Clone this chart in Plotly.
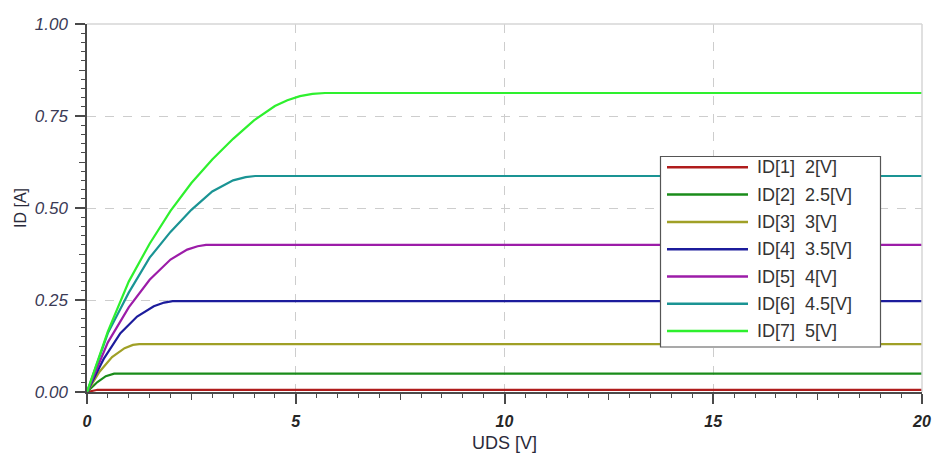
import plotly.graph_objects as go

# ---- data ----
names = ["ID[1]  2[V]", "ID[2]  2.5[V]", "ID[3]  3[V]", "ID[4]  3.5[V]",
         "ID[5]  4[V]", "ID[6]  4.5[V]", "ID[7]  5[V]"]
colors = ["#b01c1c", "#1a8c1a", "#a0a026", "#1c1c9c", "#9c1ca8", "#1a9494", "#2ef02e"]

uds_1 = [0, 0.25, 20]
id_1 = [0, 0.006, 0.006]

uds_2 = [0, 0.25, 0.45, 0.65, 20]
id_2 = [0, 0.027, 0.043, 0.050, 0.050]

uds_3 = [0, 0.3, 0.6, 0.9, 1.1, 1.25, 20]
id_3 = [0, 0.055, 0.095, 0.119, 0.128, 0.130, 0.130]

uds_4 = [0, 0.4, 0.8, 1.2, 1.6, 1.85, 2.05, 20]
id_4 = [0, 0.090, 0.160, 0.205, 0.233, 0.243, 0.247, 0.247]

uds_5 = [0, 0.5, 1.0, 1.5, 2.0, 2.4, 2.65, 2.85, 20]
id_5 = [0, 0.135, 0.230, 0.305, 0.360, 0.387, 0.396, 0.400, 0.400]

uds_6 = [0, 0.5, 1.0, 1.5, 2.0, 2.5, 3.0, 3.5, 3.8, 4.03, 20]
id_6 = [0, 0.160, 0.270, 0.365, 0.435, 0.495, 0.545, 0.575, 0.584, 0.587, 0.587]

uds_7 = [0, 0.5, 1.0, 1.5, 2.0, 2.5, 3.0, 3.5, 4.0, 4.5, 4.8, 5.1, 5.4, 5.7, 20]
id_7 = [0, 0.165, 0.300, 0.403, 0.492, 0.568, 0.632, 0.688, 0.738, 0.777, 0.793, 0.804, 0.810, 0.8125, 0.8125]

xs = [uds_1, uds_2, uds_3, uds_4, uds_5, uds_6, uds_7]
ys = [id_1, id_2, id_3, id_4, id_5, id_6, id_7]

x_ticks = [0, 5, 10, 15, 20]
y_ticks = [0, 0.25, 0.5, 0.75, 1.0]
y_ticktext = ["0.00", "0.25", "0.50", "0.75", "1.00"]

FONT = "Liberation Sans, Arial, sans-serif"
AXC = "#4a4a4a"

fig = go.Figure()
for x, y, n, c in zip(xs, ys, names, colors):
    fig.add_trace(go.Scatter(x=x, y=y, mode="lines", name=n,
                             line=dict(color=c, width=2.2), showlegend=False))
# dummy trace to make the medium-tick overlay axes exist
fig.add_trace(go.Scatter(x=[None], y=[None], xaxis="x2", yaxis="y2",
                         showlegend=False, hoverinfo="skip"))

# figure size and target plot-area pixels
W, H = 935, 453
L, R, T, B = 87, 922, 24, 392
def px(p):
    return (p - L) / (R - L)
def py(p):
    return (B - p) / (B - T)

shapes = [
    dict(type="line", xref="paper", yref="paper", x0=0, x1=1, y0=1, y1=1,
         line=dict(color="#d6d6d6", width=1.5)),
    dict(type="line", xref="paper", yref="paper", x0=1, x1=1, y0=0, y1=1,
         line=dict(color="#d6d6d6", width=1.5)),
    dict(type="rect", xref="paper", yref="paper",
         x0=px(660.5), x1=px(880.5), y0=py(347), y1=py(156.5),
         fillcolor="white", line=dict(color="#555555", width=1.2)),
]
annotations = []
row0, dy = 167.3, 27.3
for i, (n, c) in enumerate(zip(names, colors)):
    yy = py(row0 + i * dy)
    shapes.append(dict(type="line", xref="paper", yref="paper",
                       x0=px(667), x1=px(748), y0=yy, y1=yy,
                       line=dict(color=c, width=2.5)))
    annotations.append(dict(xref="paper", yref="paper", x=px(755), y=yy,
                            xanchor="left", yanchor="middle", showarrow=False,
                            text=n.replace("  ", "\u00a0 "),
                            font=dict(family=FONT, size=18, color="#333333")))

fig.update_layout(
    template="none",
    autosize=False,
    width=W, height=H,
    margin=dict(l=L, r=W - R, t=T, b=H - B, pad=0),
    paper_bgcolor="white", plot_bgcolor="white",
    font=dict(family=FONT),
    xaxis=dict(range=[0, 20], tickvals=x_ticks, ticktext=[str(v) for v in x_ticks],
               automargin=False,
               showline=True, linecolor=AXC, linewidth=1.5,
               ticks="outside", ticklen=10, tickwidth=1.5, tickcolor=AXC,
               ticklabelstandoff=4,
               tickfont=dict(family=FONT, size=16, color="#262626", style="italic", weight="bold"),
               showgrid=True, gridcolor="#cdcdcd", griddash="dash", gridwidth=1,
               zeroline=False,
               minor=dict(dtick=0.5, ticks="outside", ticklen=4, tickwidth=1.2,
                          tickcolor=AXC, showgrid=False),
               title=dict(text="UDS [V]", standoff=12,
                          font=dict(family=FONT, size=18, color="#2a2a3a"))),
    yaxis=dict(range=[0, 1.0], tickvals=y_ticks, ticktext=y_ticktext,
               automargin=False,
               showline=True, linecolor=AXC, linewidth=1.5,
               ticks="outside", ticklen=10, tickwidth=1.5, tickcolor=AXC,
               ticklabelstandoff=4,
               tickfont=dict(family=FONT, size=17, color="#3a3a55", style="italic"),
               showgrid=True, gridcolor="#cdcdcd", griddash="dash", gridwidth=1,
               zeroline=False,
               minor=dict(dtick=0.025, ticks="outside", ticklen=4, tickwidth=1.2,
                          tickcolor=AXC, showgrid=False),
               title=dict(text="ID [A]", standoff=4,
                          font=dict(family=FONT, size=16, color="#2a2a3a"))),
    xaxis2=dict(overlaying="x", anchor="y", side="bottom", range=[0, 20],
                automargin=False,
                tickvals=[2.5, 7.5, 12.5, 17.5], ticks="outside", ticklen=7,
                tickwidth=1.2, tickcolor=AXC, showticklabels=False,
                showgrid=False, showline=False, zeroline=False),
    yaxis2=dict(overlaying="y", anchor="x", side="left", range=[0, 1.0],
                automargin=False,
                tickvals=[0.125, 0.375, 0.625, 0.875], ticks="outside", ticklen=7,
                tickwidth=1.2, tickcolor=AXC, showticklabels=False,
                showgrid=False, showline=False, zeroline=False),
    shapes=shapes,
    annotations=annotations,
    showlegend=False,
)

fig.write_html("out.html", config={"displayModeBar": False},
               post_script="document.body.style.margin='0px';")
